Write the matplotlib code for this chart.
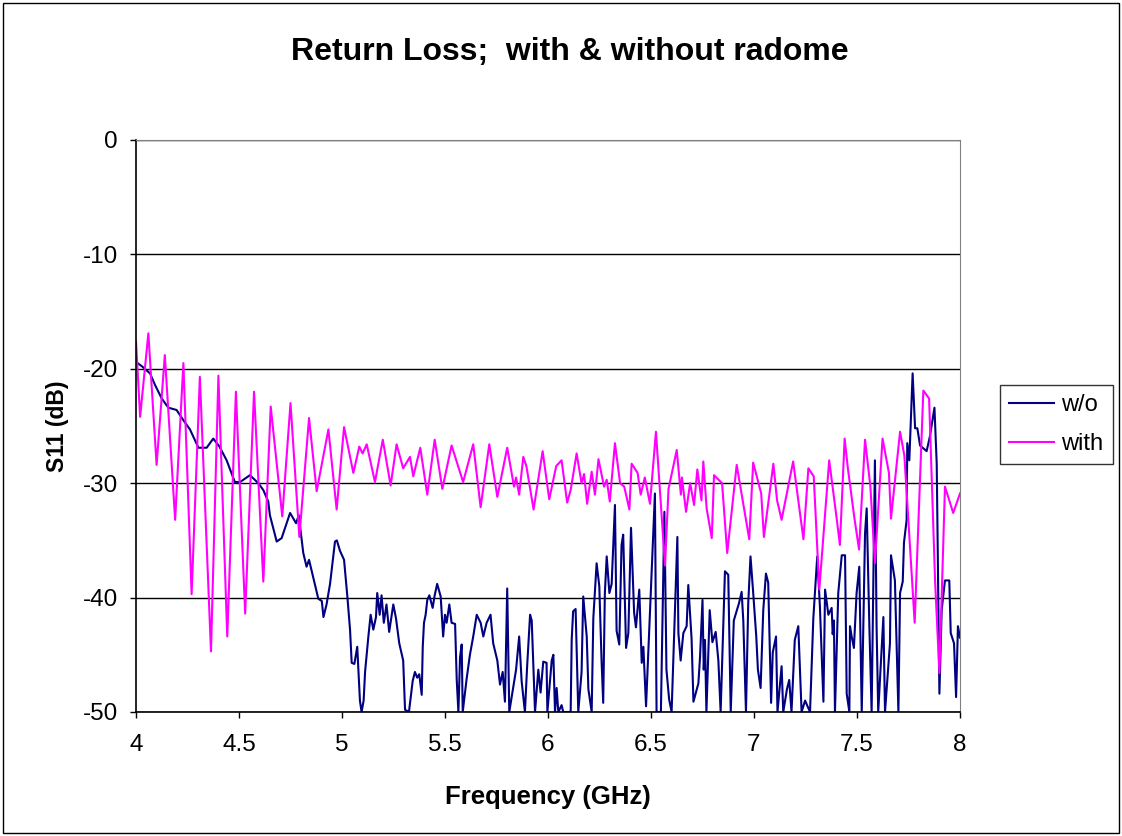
import matplotlib.pyplot as plt
from matplotlib.patches import Rectangle

# "with radome" trace (magenta)
with_freq = [
    4.000, 4.020, 4.060, 4.100, 4.140, 4.190, 4.230, 4.270, 4.310, 4.364,
    4.400, 4.443, 4.485, 4.530, 4.573, 4.618, 4.654, 4.710, 4.750, 4.793,
    4.840, 4.877, 4.934, 4.974, 5.010, 5.055, 5.084, 5.100, 5.120, 5.160,
    5.198, 5.236, 5.265, 5.297, 5.330, 5.346, 5.380, 5.414, 5.450, 5.487,
    5.532, 5.588, 5.637, 5.673, 5.715, 5.754, 5.802, 5.835, 5.845, 5.860,
    5.880, 5.895, 5.930, 5.974, 6.006, 6.040, 6.066, 6.093, 6.110, 6.139,
    6.163, 6.175, 6.190, 6.212, 6.228, 6.245, 6.272, 6.285, 6.300, 6.325,
    6.350, 6.370, 6.395, 6.406, 6.435, 6.450, 6.470, 6.495, 6.524, 6.568,
    6.585, 6.625, 6.645, 6.650, 6.670, 6.690, 6.709, 6.725, 6.745, 6.754,
    6.770, 6.795, 6.806, 6.845, 6.870, 6.916, 6.977, 6.996, 7.035, 7.048,
    7.094, 7.112, 7.134, 7.190, 7.240, 7.264, 7.290, 7.317, 7.365, 7.400,
    7.417, 7.440, 7.455, 7.487, 7.510, 7.539, 7.565, 7.587, 7.624, 7.655,
    7.665, 7.709, 7.730, 7.780, 7.822, 7.850, 7.879, 7.900, 7.927, 7.967,
    8.000,
]
with_db = [
    -17.6, -24.2, -16.9, -28.4, -18.8, -33.2, -19.5, -39.7, -20.7, -44.7,
    -20.6, -43.4, -22.0, -41.4, -22.0, -38.6, -23.3, -32.9, -23.0, -34.7,
    -24.3, -30.7, -25.3, -32.3, -25.1, -29.1, -26.8, -27.4, -26.6, -29.9,
    -26.2, -30.2, -26.6, -28.7, -27.7, -29.4, -26.9, -31.0, -26.2, -30.5,
    -26.7, -29.9, -26.6, -32.1, -26.6, -31.2, -26.9, -30.3, -29.5, -31.0,
    -27.7, -28.5, -32.3, -27.2, -31.4, -28.5, -28.0, -31.7, -30.6, -27.4,
    -30.0, -29.2, -31.8, -29.0, -31.0, -27.9, -30.3, -29.7, -31.6, -26.5,
    -30.0, -30.3, -32.3, -28.3, -29.1, -31.0, -29.5, -31.8, -25.5, -37.2,
    -30.5, -27.1, -31.0, -29.5, -32.5, -30.0, -31.9, -28.8, -31.5, -28.1,
    -32.2, -34.8, -29.3, -30.0, -36.1, -28.4, -34.9, -28.2, -30.9, -34.7,
    -28.3, -31.5, -33.2, -28.1, -34.9, -28.7, -29.4, -39.3, -28.0, -32.9,
    -35.4, -26.1, -28.6, -33.0, -35.8, -26.2, -30.3, -37.0, -26.1, -29.1,
    -33.1, -25.5, -27.6, -42.2, -21.9, -22.6, -38.5, -46.6, -30.3, -32.6,
    -30.9,
]

# "without radome" trace (navy)
wo_freq = [
    4.000, 4.030, 4.068, 4.092, 4.125, 4.157, 4.197, 4.230, 4.262, 4.303,
    4.343, 4.375, 4.405, 4.440, 4.480, 4.505, 4.553, 4.594, 4.618, 4.642,
    4.650, 4.683, 4.707, 4.748, 4.777, 4.790, 4.812, 4.828, 4.840, 4.857,
    4.885, 4.902, 4.910, 4.925, 4.942, 4.966, 4.975, 4.990, 5.010, 5.026,
    5.039, 5.047, 5.060, 5.074, 5.087, 5.095, 5.105, 5.112, 5.128, 5.139,
    5.152, 5.165, 5.171, 5.183, 5.192, 5.203, 5.216, 5.229, 5.249, 5.262,
    5.278, 5.297, 5.306, 5.325, 5.343, 5.354, 5.365, 5.375, 5.387, 5.392,
    5.398, 5.406, 5.414, 5.424, 5.440, 5.450, 5.462, 5.479, 5.491, 5.500,
    5.508, 5.521, 5.532, 5.549, 5.557, 5.565, 5.573, 5.581, 5.586, 5.605,
    5.621, 5.637, 5.654, 5.673, 5.686, 5.702, 5.721, 5.734, 5.754, 5.767,
    5.780, 5.791, 5.802, 5.812, 5.845, 5.860, 5.872, 5.888, 5.899, 5.913,
    5.921, 5.937, 5.953, 5.964, 5.977, 5.993, 5.997, 6.018, 6.026, 6.034,
    6.042, 6.050, 6.066, 6.074, 6.110, 6.115, 6.122, 6.134, 6.147, 6.163,
    6.171, 6.188, 6.196, 6.212, 6.220, 6.236, 6.249, 6.260, 6.268, 6.276,
    6.285, 6.298, 6.309, 6.325, 6.333, 6.346, 6.357, 6.365, 6.379, 6.390,
    6.403, 6.418, 6.427, 6.443, 6.455, 6.463, 6.476, 6.502, 6.519, 6.527,
    6.548, 6.565, 6.575, 6.588, 6.600, 6.628, 6.633, 6.644, 6.657, 6.673,
    6.681, 6.697, 6.706, 6.730, 6.738, 6.750, 6.756, 6.762, 6.769, 6.785,
    6.798, 6.814, 6.827, 6.838, 6.859, 6.875, 6.887, 6.902, 6.927, 6.940,
    6.948, 6.961, 6.972, 6.983, 6.995, 7.011, 7.019, 7.032, 7.045, 7.058,
    7.069, 7.083, 7.091, 7.107, 7.114, 7.134, 7.142, 7.160, 7.171, 7.182,
    7.198, 7.215, 7.231, 7.248, 7.272, 7.288, 7.307, 7.320, 7.337, 7.345,
    7.361, 7.377, 7.382, 7.388, 7.393, 7.409, 7.426, 7.442, 7.450, 7.463,
    7.466, 7.474, 7.485, 7.498, 7.511, 7.523, 7.539, 7.547, 7.560, 7.571,
    7.587, 7.595, 7.603, 7.628, 7.636, 7.660, 7.665, 7.684, 7.701, 7.709,
    7.722, 7.728, 7.741, 7.744, 7.754, 7.770, 7.782, 7.793, 7.806, 7.838,
    7.854, 7.876, 7.887, 7.900, 7.911, 7.927, 7.948, 7.955, 7.971, 7.981,
    7.990, 8.000,
]
wo_db = [
    -19.4, -19.8, -20.4, -21.4, -22.6, -23.4, -23.6, -24.5, -25.3, -26.9,
    -26.9, -26.1, -26.8, -28.0, -29.9, -29.9, -29.3, -30.0, -30.6, -31.6,
    -32.8, -35.1, -34.8, -32.6, -33.5, -32.8, -36.1, -37.3, -36.7, -38.0,
    -40.1, -40.3, -41.7, -40.6, -38.8, -35.1, -35.0, -35.9, -36.7, -39.9,
    -42.8, -45.7, -45.8, -44.3, -49.0, -50.0, -49.0, -46.5, -43.4, -41.5,
    -42.8, -41.7, -39.6, -41.5, -39.8, -42.2, -40.6, -43.0, -40.6, -41.8,
    -44.0, -45.5, -49.8, -50.0, -47.3, -46.5, -47.0, -46.7, -48.5, -44.3,
    -42.2, -41.5, -40.2, -39.8, -40.9, -39.8, -38.8, -39.9, -43.4, -41.5,
    -42.2, -40.6, -42.2, -42.3, -47.2, -50.0, -45.2, -44.1, -50.0, -47.1,
    -45.0, -43.4, -41.5, -42.2, -43.4, -42.2, -41.5, -44.0, -45.5, -47.6,
    -46.5, -49.1, -39.2, -50.0, -46.3, -43.4, -47.3, -50.0, -45.9, -41.5,
    -42.0, -50.0, -46.3, -48.3, -45.6, -45.7, -50.0, -45.5, -45.0, -50.0,
    -47.9, -50.0, -49.4, -50.0, -50.0, -43.7, -41.2, -41.0, -50.0, -46.5,
    -39.9, -43.4, -48.0, -50.0, -41.8, -37.0, -39.0, -45.5, -49.2, -39.6,
    -36.4, -39.6, -38.8, -31.9, -42.9, -44.1, -35.4, -34.5, -44.4, -43.1,
    -33.9, -41.3, -42.6, -39.3, -45.7, -44.3, -49.5, -38.3, -30.9, -50.0,
    -50.0, -32.5, -46.3, -48.9, -50.0, -34.7, -43.1, -45.5, -43.1, -42.5,
    -38.9, -43.6, -49.1, -47.5, -45.2, -40.2, -46.3, -43.7, -50.0, -41.1,
    -43.9, -43.0, -45.5, -50.0, -37.7, -38.0, -50.0, -42.0, -40.5, -39.5,
    -42.0, -50.0, -40.5, -36.4, -39.3, -43.4, -46.3, -47.9, -41.1, -37.9,
    -38.7, -49.2, -44.8, -43.4, -50.0, -46.0, -50.0, -48.0, -47.2, -50.0,
    -43.7, -42.5, -50.0, -49.0, -50.0, -41.8, -36.4, -40.8, -49.1, -39.3,
    -41.5, -40.9, -43.2, -42.0, -50.0, -39.6, -36.3, -36.3, -48.4, -50.0,
    -42.5, -43.4, -44.4, -39.6, -37.3, -50.0, -34.4, -32.2, -42.5, -50.0,
    -28.0, -42.5, -50.0, -41.7, -50.0, -44.0, -36.3, -38.5, -50.0, -39.6,
    -38.6, -35.2, -33.2, -26.5, -28.0, -20.4, -25.2, -25.2, -26.7, -27.2,
    -25.9, -23.4, -28.3, -48.4, -41.1, -38.5, -38.5, -43.1, -44.0, -48.7,
    -42.5, -43.5,
]

x_ticks = [4, 4.5, 5, 5.5, 6, 6.5, 7, 7.5, 8]
x_tick_labels = ["4", "4.5", "5", "5.5", "6", "6.5", "7", "7.5", "8"]
y_ticks = [0, -10, -20, -30, -40, -50]

plt.rcParams["font.family"] = ["Liberation Sans", "DejaVu Sans"]
plt.rcParams["axes.unicode_minus"] = False

W, H = 1122, 836
fig = plt.figure(figsize=(W / 100, H / 100), dpi=100)
ax = fig.add_axes([136 / W, 1 - 712 / H, 824 / W, 572 / H])

ax.plot(wo_freq, wo_db, color="#000080", lw=1.5, label="w/o")
ax.plot(with_freq, with_db, color="#FF00FF", lw=1.5, label="with")

ax.set_xlim(4, 8)
ax.set_ylim(-50, 0)
ax.set_xticks(x_ticks)
ax.set_xticklabels(x_tick_labels)
ax.set_yticks(y_ticks)
ax.tick_params(axis="both", labelsize=17.5, direction="out", length=4, width=1)
ax.tick_params(axis="x", pad=12)
ax.tick_params(axis="y", pad=9)
ax.yaxis.grid(True, color="black", lw=1)
ax.set_axisbelow(True)

for side in ("top", "right"):
    ax.spines[side].set_color("#808080")
ax.spines["left"].set_linewidth(1.2)
ax.spines["bottom"].set_linewidth(1.2)

fig.text(570 / W, 1 - 52 / H, "Return Loss;  with & without radome",
         fontsize=23, fontweight="bold", ha="center", va="center")
ax.set_xlabel("Frequency (GHz)", fontsize=18.5, fontweight="bold", labelpad=21)
ax.set_ylabel("S11 (dB)", fontsize=16.5, fontweight="bold", labelpad=10)

leg = ax.legend(
    loc="upper left",
    bbox_to_anchor=(1000 / W, 1 - 385 / H),
    bbox_transform=fig.transFigure,
    borderaxespad=0,
    fontsize=17,
    frameon=True,
    fancybox=False,
    borderpad=0.4,
    handlelength=1.9,
    handletextpad=0.3,
    labelspacing=0.7,
)
leg.get_frame().set_edgecolor("black")
leg.get_frame().set_linewidth(1)

# thin border around the whole chart area
fig.patches.append(
    Rectangle((0.003, 0.003), 0.994, 0.994, transform=fig.transFigure,
              fill=False, edgecolor="black", lw=1)
)

fig.savefig("out.png", dpi=100)
